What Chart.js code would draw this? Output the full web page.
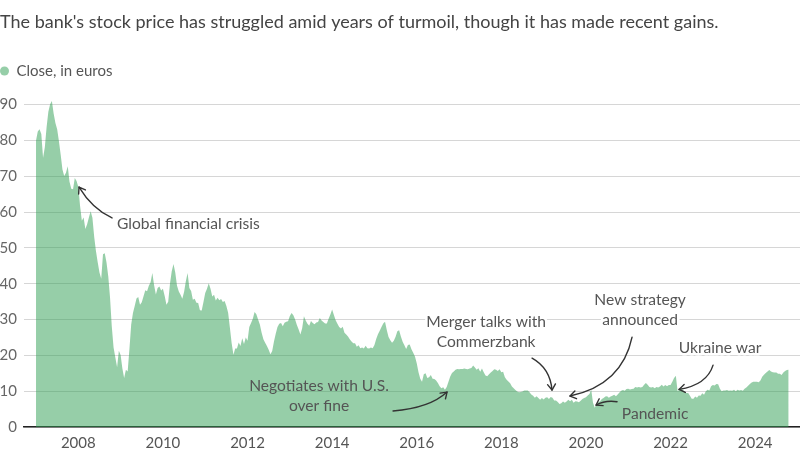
<!DOCTYPE html>
<html><head><meta charset="utf-8">
<script src="https://cdn.jsdelivr.net/npm/chart.js@4.4.0/dist/chart.umd.min.js"></script>
<style>html,body{margin:0;padding:0;background:#fff}#wrap{width:800px;height:450px;position:relative}</style>
</head><body><div id="wrap"><canvas id="c"></canvas></div>
<script>
const titleText = "The bank's stock price has struggled amid years of turmoil, though it has made recent gains.";
const seriesLabel = "Close, in euros";
const startYear = 2007;
const stepsPerYear = 24; // half-month closes
const closes = [
80,82.5,83.1,81.8,75.2,78.1,83.7,88,90.1,91,
87.5,84.9,83.1,79.8,76,71.9,70.1,71,72.8,68.5,
66.5,66.4,69.5,68.7,67,61.7,57.6,58.5,55.3,56.6,
58.5,60.2,58.4,53.1,49.1,46,43.1,41.4,48.2,48.5,
45.9,42,36.1,28,22.2,19.4,16.7,21.3,20.1,16.3,
13.7,16,15.5,21.8,28.6,31.8,33.8,35.9,36.3,34.1,
34.8,36.5,38.2,37.9,39.4,40.4,43,39.6,37,38.8,
39.2,38.1,38.6,36.6,34.1,35,40,43.5,45.5,43.1,
39.4,37.8,36.9,35.8,37.7,40.7,43,
38.8,38,35.5,35.8,34.7,34.6,32.6,32.5,34.9,37.4,
38.6,40.1,38.6,36.4,36.9,35.3,36.1,35.4,35.7,34.9,
35.2,33.8,31.9,27.7,23.4,20.2,21.9,21.9,23.6,22.6,
24.8,23.2,25,24.1,27.9,29,30.2,32.1,31.5,30,
28.6,26.3,24.5,23.5,22.6,21.6,20.3,21.2,23.9,26,
27.9,28.8,29,28.1,29.1,29.4,29.5,31,31.8,31.2,
30,28.5,27.2,25.8,27.6,30.9,29.7,28.8,28.3,29.6,
29,28.7,29.2,29.3,30.4,29.7,29.3,28.9,28.9,30.2,
31.4,32.8,31.3,29.8,28.8,27.9,27.5,28,
26.3,25.8,25.3,24.5,23.9,23.4,23.4,22.4,22.8,22,
22.2,21.9,22.7,22,21.9,22.2,22,22.9,24.6,25.9,
26.9,27.9,28.9,29.4,27.1,25.1,24.2,23.5,24.1,25.2,
26.7,27,25.3,23.8,22.8,21.8,22.9,23,21.7,20.7,
19.7,17.8,15.3,13.5,12.6,14.7,15,13.7,13.9,14.5,
13.5,13.4,13,12.3,11.4,10.8,11.1,10.4,11.2,12.6,
14.1,15.1,15.5,16,16.2,16.1,16.2,16.2,16.3,16.2,
16.1,16.3,16.5,17.2,16.6,16,16.4,15.4,16.3,15.3,
14.4,14.2,14.7,15.2,15.6,16.1,16,15.6,
16.1,15.3,15.4,13.9,13.2,12.7,12.2,11.3,10.8,10.3,
9.9,9.7,9.8,9.9,10.2,10.2,10.2,9.7,9.1,8.7,
8.2,8.6,8.1,7.6,8.1,7.7,8.2,8.3,7.8,8.4,
8.2,7.4,7.4,7,6.4,6.6,7.1,6.8,7.1,7.6,
7.2,7.6,6.8,7.2,7.1,6.9,7.3,7.8,8.1,8.3,
8.8,9.2,10.4,6.8,5.4,6.4,6.9,7.2,7.8,8.1,
8.5,8.6,8.2,8.5,8.7,9,8.6,9.1,9.6,10.1,
10.3,10.1,10.6,10.7,10.5,10.6,10.7,11.2,11,11.2,
11,11.2,11.8,12.3,11.8,11.2,11,11.2,
10.8,11.2,11,11.3,11.8,11.3,11.7,11.4,11.7,11.7,
12.6,13.7,14.3,10,10.5,10.8,10.3,9.9,9.5,9.5,
8.7,7.9,7.9,8.5,8.2,8.8,8.7,9.4,9,10,
10.4,10.2,11.4,11.7,11.6,12,11.9,10.7,10,10.2,
10.2,10.3,10.1,10.2,10.1,10.4,10,10.4,10.2,10.3,
10.1,10.7,11,11.5,12,12.4,12.6,12.6,12.6,12.5,
13,14,14.6,15.1,15.5,15.9,15.5,15.3,15.2,15.2,
14.9,14.9,14.5,15.2,15.6,15.9,16
];
const yTicks = [0,10,20,30,40,50,60,70,80,90];
const xTicks = [2008,2010,2012,2014,2016,2018,2020,2022,2024];
const xRange = [2006.716, 2025.06];
const yRange = [0, 94.5];

const annotationTexts = [
  {lines:["Global financial crisis"], x:2008.915, y:56.8, align:"left", halo:true},
  {lines:["Negotiates with U.S.","over fine"], x:2013.69, y:11.42, align:"center", halo:false},
  {lines:["Merger talks with","Commerzbank"], x:2017.64, y:29.33, align:"center", halo:true},
  {lines:["New strategy","announced"], x:2021.28, y:35.38, align:"center", halo:true},
  {lines:["Pandemic"], x:2021.634, y:3.62, align:"center", halo:false},
  {lines:["Ukraine war"], x:2023.17, y:22.09, align:"center", halo:true}
];
const annotationArrows = [
  {from:[2008.797,58.36], via:[2008.324,61.0], to:[2008.017,66.99]},
  {from:[2015.44,4.46], via:[2016.31,5.29], to:[2016.716,9.75]},
  {from:[2018.726,19.22], via:[2019.151,16.43], to:[2019.198,10.31]},
  {from:[2021.09,25.07], via:[2020.853,11.7], to:[2019.624,8.64]},
  {from:[2020.735,7.05], via:[2020.45,7.52], to:[2020.24,6.13]},
  {from:[2023.005,17.27], via:[2022.858,11.7], to:[2022.2,10.5]}
];

const FONT = "Lato";
Chart.defaults.font.family = FONT;

const annotationPlugin = {
  id: 'notes',
  afterDatasetsDraw(chart) {
    const ctx = chart.ctx, xs = chart.scales.x, ys = chart.scales.y;
    ctx.save();
    ctx.strokeStyle = '#333'; ctx.lineWidth = 1.4; ctx.lineCap = 'round'; ctx.lineJoin='round';
    annotationArrows.forEach(a => {
      const p0 = [xs.getPixelForValue(a.from[0]), ys.getPixelForValue(a.from[1])];
      const c = [xs.getPixelForValue(a.via[0]), ys.getPixelForValue(a.via[1])];
      const p1 = [xs.getPixelForValue(a.to[0]), ys.getPixelForValue(a.to[1])];
      ctx.beginPath(); ctx.moveTo(p0[0], p0[1]); ctx.quadraticCurveTo(c[0], c[1], p1[0], p1[1]); ctx.stroke();
      const ang = Math.atan2(p1[1]-c[1], p1[0]-c[0]);
      const L = 7, w = 0.6;
      ctx.beginPath();
      ctx.moveTo(p1[0] - L*Math.cos(ang - w), p1[1] - L*Math.sin(ang - w));
      ctx.lineTo(p1[0], p1[1]);
      ctx.lineTo(p1[0] - L*Math.cos(ang + w), p1[1] - L*Math.sin(ang + w));
      ctx.stroke();
    });
    ctx.font = '15.6px ' + FONT;
    ctx.textBaseline = 'middle';
    annotationTexts.forEach(t => {
      const x = xs.getPixelForValue(t.x), y = ys.getPixelForValue(t.y);
      ctx.textAlign = t.align;
      t.lines.forEach((line, i) => {
        const yy = y + i*20;
        if (t.halo) { ctx.strokeStyle = '#fff'; ctx.lineWidth = 5; ctx.strokeText(line, x, yy); }
        ctx.fillStyle = '#555'; ctx.fillText(line, x, yy);
      });
    });
    ctx.restore();
  }
};

new Chart(document.getElementById('c'), {
  type: 'line',
  data: {
    datasets: [{
      label: seriesLabel,
      data: closes.map((v, i) => ({x: startYear + i/stepsPerYear, y: v})),
      fill: 'origin',
      backgroundColor: 'rgba(45,157,81,0.5)',
      borderColor: 'rgba(45,157,81,0.5)',
      borderWidth: 0,
      pointRadius: 0,
      tension: 0,
      clip: false
    }]
  },
  options: {
    responsive: true,
    maintainAspectRatio: false,
    animation: false,
    layout: {padding: 0},
    plugins: {
      tooltip: {enabled: false},
      title: {
        display: true, text: titleText, align: 'start', color: '#444',
        font: {size: 18, weight: 'normal', family: FONT, lineHeight: 1.2},
        padding: {top: 11.2, bottom: 30.7}
      },
      legend: {
        display: true, align: 'start',
        labels: {usePointStyle: true, pointStyle: 'circle', boxWidth: 9, boxHeight: 6.36, padding: 0,
          color: '#555', font: {size: 15, family: FONT}}
      }
    },
    scales: {
      x: {
        type: 'linear', min: xRange[0], max: xRange[1],
        afterBuildTicks: s => { s.ticks = xTicks.map(v => ({value: v})); },
        afterFit: s => { s.height = 23; },
        grid: {display: false, drawTicks: false},
        border: {display: true, color: '#222', width: 1.6},
        ticks: {color: '#555', font: {size: 15, family: FONT}, padding: 7, maxRotation: 0, autoSkip: false,
          callback: v => String(v)}
      },
      y: {
        min: yRange[0], max: yRange[1],
        afterBuildTicks: s => { s.ticks = yTicks.map(v => ({value: v})); },
        afterFit: s => { s.width = 24; },
        grid: {color: '#d6d6d6', lineWidth: 1, drawTicks: false},
        border: {display: false},
        ticks: {color: '#666', font: {size: 15, family: FONT}, padding: 7, callback: v => String(v)}
      }
    }
  },
  plugins: [annotationPlugin]
});
</script></body></html>
